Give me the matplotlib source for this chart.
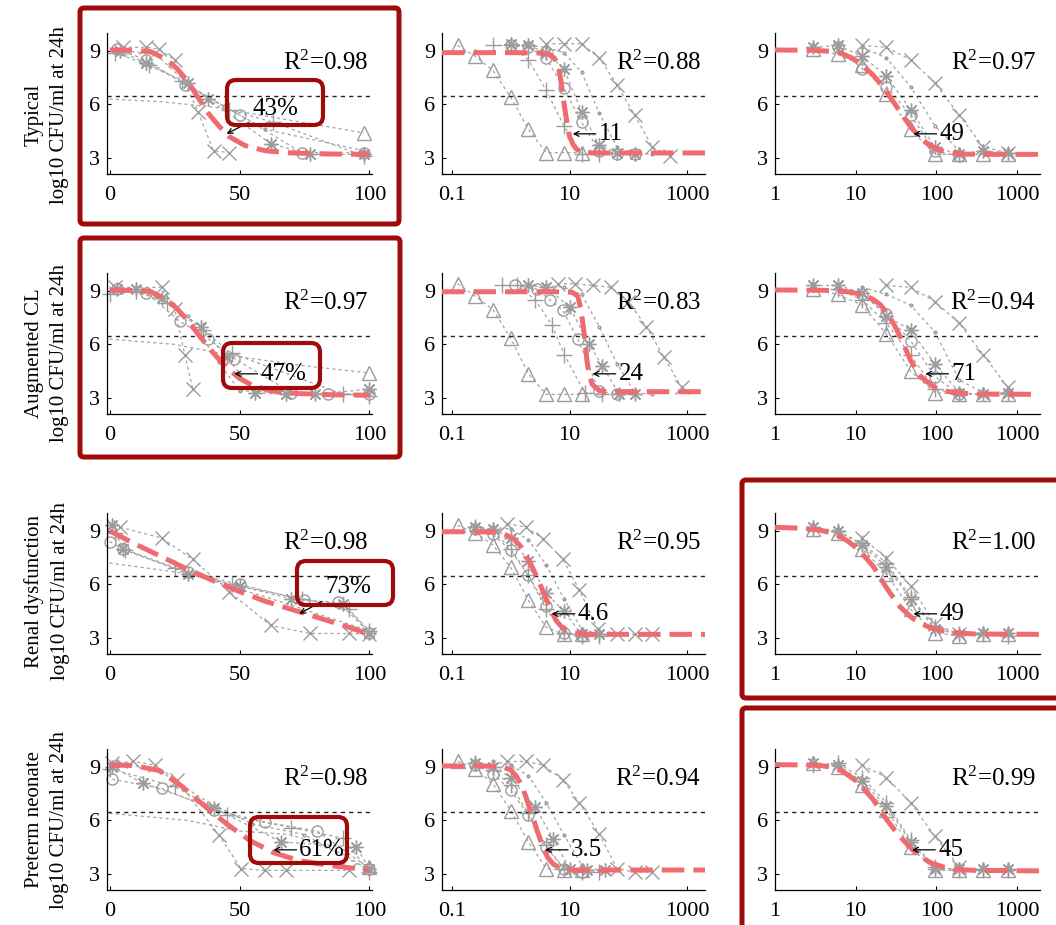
"""Kill curves vs exposure index, four patient groups, three panels each."""

import matplotlib

matplotlib.use("Agg")
import matplotlib.pyplot as plt
from matplotlib.patches import FancyBboxPatch
from matplotlib.ticker import NullLocator

plt.rcParams["font.family"] = ["Liberation Serif", "DejaVu Serif"]
plt.rcParams["mathtext.fontset"] = "custom"
plt.rcParams["mathtext.rm"] = "Liberation Serif"
plt.rcParams["mathtext.it"] = "Liberation Serif:italic"

ROW_NAMES = ["Typical", "Augmented CL", "Renal dysfunction", "Preterm neonate"]
R2_TEXT = [
    ["0.98", "0.88", "0.97"],
    ["0.97", "0.83", "0.94"],
    ["0.98", "0.95", "1.00"],
    ["0.98", "0.94", "0.99"],
]
ANNOT_TEXT = [
    ["43%", "11", "49"],
    ["47%", "24", "71"],
    ["73%", "4.6", "49"],
    ["61%", "3.5", "45"],
]
ANNOT_X = [
    [45, 11.3, 52],
    [48, 24.5, 73],
    [73, 4.95, 52],
    [63, 3.8, 50],
]
ANNOT_Y = 4.35
STASIS_Y = 6.45

# ---- row 1: typical ----
TYP_FT_FIT_X = [0, 10, 16, 22, 26, 30, 34, 38, 42, 46, 52, 60, 70, 85, 100]
TYP_FT_FIT_Y = [9.05, 9.03, 8.95, 8.5, 8.0, 7.3, 6.4, 5.5, 4.8, 4.2, 3.7, 3.4, 3.28, 3.22, 3.2]
TYP_FT_OBS = [
    ("x", [5, 14, 19, 25, 34, 40, 46], [9.2, 9.2, 9.1, 8.5, 5.6, 3.4, 3.3]),
    ("", [0, 20, 40, 60, 80, 98], [6.3, 6.15, 5.85, 5.35, 4.85, 4.4]),
    ("^", [98], [4.4]),
    ("*", [4, 14, 30, 38, 62, 77, 98], [9.0, 8.3, 7.2, 6.3, 3.8, 3.2, 3.2]),
    ("o", [3, 14, 29, 50, 74, 98], [9.1, 8.5, 7.1, 5.4, 3.3, 3.3]),
    ("+", [2, 15, 28, 46, 63, 98], [8.9, 8.2, 7.3, 5.7, 5.0, 3.1]),
    (".", [6, 18, 31, 44, 60, 98], [9.0, 8.8, 7.0, 5.9, 4.6, 3.4]),
]
TYP_AUC_FIT_X = [0.068, 1, 3, 4.5, 5.5, 6.3, 7.0, 7.7, 8.8, 10, 11.5, 13, 16, 25, 2000]
TYP_AUC_FIT_Y = [8.9, 8.9, 8.88, 8.8, 8.6, 8.2, 7.5, 6.5, 5.2, 4.2, 3.75, 3.5, 3.35, 3.28, 3.28]
TYP_AUC_OBS = [
    ("^", [0.125, 0.25, 0.5, 1, 2, 4, 8, 16], [9.3, 8.7, 7.9, 6.4, 4.6, 3.3, 3.3, 3.3]),
    ("+", [0.5, 1, 2, 4, 8, 16, 32], [9.3, 9.3, 8.5, 6.8, 4.8, 3.2, 3.2]),
    ("o", [1, 2, 4, 8, 16, 32, 64, 128], [9.3, 9.2, 8.6, 6.9, 5.0, 3.4, 3.2, 3.2]),
    ("*", [1, 2, 4, 8, 16, 32, 64, 128], [9.4, 9.3, 8.9, 8.0, 5.6, 3.7, 3.3, 3.2]),
    (".", [2, 4, 8, 16, 32, 64, 128, 256], [9.3, 9.2, 8.9, 7.8, 5.5, 3.6, 3.3, 3.2]),
    ("x", [4, 8, 16, 32, 64, 128, 256, 512], [9.4, 9.4, 9.4, 8.6, 7.1, 5.4, 3.6, 3.1]),
]
TYP_CMAX_FIT_X = [1, 3, 6, 9, 12, 16, 20, 25, 32, 40, 50, 63, 80, 100, 140, 200, 400, 1930]
TYP_CMAX_FIT_Y = [9.05, 9.03, 8.95, 8.6, 8.2, 7.7, 7.2, 6.6, 5.9, 5.25, 4.65, 4.15, 3.75, 3.5, 3.3, 3.22, 3.2, 3.2]
TYP_CMAX_OBS = [
    ("^", [3, 6, 12, 24, 48, 96, 192, 384, 768], [9.1, 8.8, 8.2, 6.6, 4.6, 3.2, 3.2, 3.2, 3.2]),
    ("*", [3, 6, 12, 24, 48, 96, 192, 384, 768], [9.2, 9.3, 8.7, 7.6, 5.7, 3.6, 3.2, 3.4, 3.3]),
    ("x", [12, 24, 48, 96, 192, 384, 768], [9.3, 9.2, 8.5, 7.2, 5.4, 3.6, 3.3]),
    (".", [12, 24, 48, 96, 192], [9.2, 8.6, 7.0, 4.8, 3.4]),
    ("o", [6, 12, 24, 48, 96, 192], [9.2, 8.0, 7.0, 5.4, 3.4, 3.1]),
]

# ---- row 2: augmented renal clearance ----
ACL_FT_FIT_X = [0, 10, 16, 22, 26, 30, 35, 40, 45, 50, 55, 62, 72, 85, 100]
ACL_FT_FIT_Y = [9.05, 9.02, 8.95, 8.5, 8.0, 7.35, 6.4, 5.5, 4.7, 4.1, 3.7, 3.4, 3.25, 3.18, 3.15]
ACL_FT_OBS = [
    ("x", [2, 20, 25, 29, 32], [9.2, 9.2, 8.0, 5.4, 3.5]),
    ("", [0, 25, 50, 75, 100], [6.3, 6.0, 5.3, 4.8, 4.4]),
    ("^", [100], [4.4]),
    ("*", [3, 10, 20, 35, 45, 56, 68, 79, 100], [9.1, 9.1, 8.6, 7.0, 5.3, 3.3, 3.2, 3.2, 3.5]),
    ("o", [3, 14, 27, 38, 48, 70, 84, 100], [9.1, 8.9, 7.3, 6.3, 5.2, 3.3, 3.2, 3.2]),
    ("+", [0, 10, 22, 36, 47, 90, 100], [8.8, 9.0, 8.3, 6.8, 5.5, 3.2, 3.1]),
    (".", [5, 18, 30, 42, 50, 70, 100], [9.0, 8.7, 7.6, 5.0, 3.4, 3.3, 3.2]),
]
ACL_AUC_FIT_X = [0.068, 5, 10, 11.3, 13.8, 15.6, 17.1, 18.5, 19.7, 21.5, 24.2, 31.6, 40.8, 2000]
ACL_AUC_FIT_Y = [8.95, 8.95, 8.93, 8.9, 8.7, 7.95, 7.0, 6.05, 5.1, 4.33, 3.76, 3.42, 3.35, 3.35]
ACL_AUC_OBS = [
    ("^", [0.125, 0.25, 0.5, 1, 2, 4, 8, 16], [9.4, 8.7, 7.95, 6.35, 4.35, 3.2, 3.2, 3.2]),
    ("+", [0.7, 1.3, 2.6, 5, 8.2, 18, 36], [9.3, 9.3, 8.5, 7.1, 5.4, 3.3, 3.2]),
    ("o", [1.2, 2.8, 4.6, 7.7, 13.8, 31.6, 64], [9.3, 9.1, 8.5, 7.9, 6.3, 3.4, 3.2]),
    ("*", [2, 4, 10, 21.5, 36, 70, 128], [9.3, 9.2, 8.1, 6.0, 4.8, 3.2, 3.2]),
    (".", [4, 8, 16, 32, 64, 128, 256], [9.3, 9.2, 8.8, 7.0, 4.9, 3.3, 3.2]),
    ("x", [6.25, 12.5, 25, 50, 100, 200, 400, 800], [9.4, 9.4, 9.3, 9.2, 8.4, 7.0, 5.3, 3.6]),
]
ACL_CMAX_FIT_X = [1, 4, 8, 12, 16, 20, 25, 30, 36, 42, 48, 56, 64, 80, 94, 120, 166, 300, 1930]
ACL_CMAX_FIT_Y = [9.05, 9.03, 8.95, 8.8, 8.55, 8.25, 7.7, 7.1, 6.4, 5.7, 5.1, 4.6, 4.2, 3.85, 3.6, 3.42, 3.3, 3.22, 3.2]
ACL_CMAX_OBS = [
    ("^", [3, 6, 12, 24, 48, 96, 192, 384, 768], [9.1, 8.8, 8.2, 6.6, 4.5, 3.3, 3.2, 3.2, 3.2]),
    ("*", [3, 6, 12, 24, 48, 96, 192, 384, 768], [9.3, 9.3, 8.9, 7.6, 6.8, 4.9, 3.3, 3.2, 3.3]),
    ("x", [24, 48, 96, 192, 384, 768], [9.3, 9.2, 8.4, 7.2, 5.4, 3.6]),
    ("o", [12, 24, 48, 96, 192], [8.8, 7.7, 6.2, 4.2, 3.2]),
    (".", [12, 24, 48, 96, 192, 384], [9.2, 8.8, 8.2, 6.7, 4.0, 3.3]),
    ("+", [6, 12, 24, 48, 96, 192], [9.1, 8.5, 7.2, 5.4, 3.5, 3.2]),
]

# ---- row 3: renal dysfunction ----
REN_FT_FIT_X = [0, 10, 20, 30, 40, 50, 60, 70, 80, 90, 100]
REN_FT_FIT_Y = [9.0, 8.25, 7.55, 6.85, 6.2, 5.6, 5.05, 4.6, 4.15, 3.7, 3.2]
REN_FT_OBS = [
    ("x", [4, 20, 32, 46, 62, 77, 92, 100], [9.2, 8.6, 7.4, 5.6, 3.7, 3.25, 3.25, 3.2]),
    ("", [0, 30, 60, 100], [7.2, 6.6, 5.3, 3.4]),
    ("o", [0, 5, 30, 50, 75, 88, 100], [8.4, 8.0, 6.7, 6.0, 5.1, 5.0, 3.3]),
    ("+", [2, 6, 25, 47, 74, 92, 100], [8.9, 7.9, 6.9, 6.0, 5.2, 4.6, 3.4]),
    ("*", [1, 5, 30, 50, 70, 90, 100], [9.3, 8.0, 6.6, 5.9, 5.2, 4.9, 3.3]),
]
REN_AUC_FIT_X = [0.068, 0.3, 0.68, 1.14, 1.5, 1.9, 2.3, 2.8, 3.4, 4.1, 5.0, 6.0, 7.2, 8.8, 12, 19, 2000]
REN_AUC_FIT_Y = [8.95, 8.95, 8.9, 8.55, 8.1, 7.5, 7.0, 6.4, 5.75, 5.1, 4.45, 3.95, 3.65, 3.45, 3.3, 3.2, 3.2]
REN_AUC_OBS = [
    ("^", [0.125, 0.25, 0.5, 1, 2, 4, 8, 16], [9.3, 8.9, 8.2, 6.95, 5.1, 3.6, 3.2, 3.2]),
    ("x", [0.88, 1.8, 3.6, 7.7, 14.6, 30, 64, 128, 256], [9.4, 9.2, 8.55, 7.4, 5.7, 3.5, 3.2, 3.2, 3.2]),
    ("*", [0.25, 0.5, 1, 2, 4, 8, 16, 32], [9.2, 9.1, 8.6, 7.3, 5.5, 4.5, 3.2, 3.2]),
    ("+", [0.25, 0.5, 1, 2, 4, 8, 16, 32], [9.2, 9.0, 8.0, 6.5, 4.6, 3.3, 3.1, 3.1]),
    (".", [0.5, 1, 2, 4, 8, 16, 32, 64], [9.2, 9.1, 8.5, 7.1, 5.2, 3.5, 3.2, 3.2]),
    ("o", [0.25, 0.5, 1, 2, 4, 8, 16], [9.1, 8.8, 7.9, 6.5, 4.8, 3.3, 3.1]),
]
REN_CMAX_FIT_X = [1, 2, 3.6, 5, 6.4, 8, 10.4, 13, 16.7, 20, 24.6, 30, 36, 44, 52, 65, 84, 120, 166, 300, 1930]
REN_CMAX_FIT_Y = [9.2, 9.15, 9.05, 8.88, 8.68, 8.42, 8.02, 7.55, 6.98, 6.4, 5.75, 5.2, 4.72, 4.35, 4.06, 3.8, 3.58, 3.4, 3.3, 3.22, 3.2]
REN_CMAX_OBS = [
    ("^", [3, 6, 12, 24, 48, 96, 192, 384, 768], [9.1, 8.9, 8.0, 6.6, 4.6, 3.3, 3.1, 3.2, 3.2]),
    ("x", [12, 24, 48, 96, 192], [8.6, 7.5, 5.9, 3.8, 3.2]),
    ("*", [3, 6, 12, 24, 48, 96, 192, 384, 768], [9.2, 9.0, 8.2, 7.0, 5.2, 3.5, 3.2, 3.3, 3.3]),
    ("+", [3, 6, 12, 24, 48, 96, 192, 384, 768], [9.1, 9.0, 8.3, 7.2, 5.3, 3.6, 3.2, 3.2, 3.1]),
]

# ---- row 4: preterm neonate ----
PRE_FT_FIT_X = [0, 9, 19, 28, 37, 45, 54, 63, 73, 86, 100]
PRE_FT_FIT_Y = [9.1, 9.08, 8.8, 7.89, 6.75, 5.81, 4.87, 4.2, 3.74, 3.45, 3.22]
PRE_FT_OBS = [
    ("x", [1, 9, 17.5, 26, 42, 50.6, 60, 68, 92], [9.2, 9.3, 9.1, 8.25, 5.2, 3.3, 3.2, 3.2, 3.2]),
    ("*", [1, 12.7, 40, 66, 95, 100], [9.0, 8.1, 6.7, 4.8, 4.5, 3.3]),
    ("o", [1, 20, 40, 60, 80, 100], [8.3, 7.8, 6.6, 5.9, 5.4, 3.3]),
    ("+", [0, 25, 45, 70, 90, 100], [8.9, 7.9, 6.3, 5.6, 5.0, 3.1]),
    ("", [0, 30, 50, 70, 90, 100], [6.4, 6.0, 5.4, 5.2, 4.1, 3.2]),
    ("^", [100], [3.4]),
    (".", [3, 20, 38, 55, 75, 100], [9.3, 8.7, 7.0, 5.8, 5.2, 3.2]),
]
PRE_AUC_FIT_X = [0.068, 0.4, 0.68, 1.0, 1.2, 1.47, 1.8, 2.15, 2.5, 2.8, 3.2, 3.6, 4.3, 5.3, 6.8, 8.8, 12, 2000]
PRE_AUC_FIT_Y = [9.05, 9.05, 9.03, 8.83, 8.55, 8.08, 7.35, 6.57, 5.95, 5.43, 4.9, 4.4, 3.9, 3.55, 3.35, 3.26, 3.22, 3.22]
PRE_AUC_OBS = [
    ("^", [0.125, 0.25, 0.5, 1, 2, 4, 8, 16], [9.3, 8.9, 8.05, 6.55, 4.8, 3.3, 3.2, 3.2]),
    ("x", [0.88, 1.8, 3.6, 7.7, 14.6, 31.6, 64, 128, 256], [9.3, 9.3, 9.1, 8.25, 7.0, 5.25, 3.3, 3.1, 3.1]),
    ("*", [0.25, 0.5, 1, 2.6, 5.3, 10, 20, 40], [9.2, 9.0, 8.4, 6.75, 4.95, 3.3, 3.2, 3.2]),
    ("+", [0.25, 0.5, 1, 2, 4, 8, 16, 32], [9.2, 8.8, 8.0, 6.4, 4.6, 3.3, 3.1, 3.1]),
    (".", [0.5, 1, 2, 4, 8, 16, 32, 64], [9.3, 9.1, 8.5, 7.0, 5.2, 3.5, 3.2, 3.2]),
    ("o", [0.25, 0.5, 1, 2, 4, 8, 16], [9.1, 8.6, 7.7, 6.3, 4.5, 3.3, 3.1]),
]
PRE_CMAX_FIT_X = [1, 2, 3.6, 5, 6.4, 8, 10.4, 13, 16.7, 20, 24.6, 30, 36, 44, 52, 65, 84, 120, 166, 300, 1930]
PRE_CMAX_FIT_Y = [9.12, 9.11, 9.08, 8.98, 8.83, 8.55, 8.17, 7.7, 7.13, 6.6, 6.0, 5.5, 5.06, 4.65, 4.3, 3.95, 3.64, 3.4, 3.26, 3.2, 3.17]
PRE_CMAX_OBS = [
    ("^", [3, 6, 12, 24, 48, 96, 192, 384, 768], [9.2, 9.0, 8.0, 6.6, 4.5, 3.2, 3.2, 3.2, 3.2]),
    ("x", [12, 24, 48, 96, 192], [9.1, 8.4, 7.0, 5.1, 3.4]),
    ("*", [3, 6, 12, 24, 48, 96, 192, 384, 768], [9.2, 9.1, 8.2, 6.8, 4.8, 3.3, 3.3, 3.3, 3.3]),
    ("+", [3, 6, 12, 24, 48, 96, 192, 384, 768], [9.1, 9.2, 8.4, 7.0, 4.9, 3.4, 3.2, 3.2, 3.2]),
]

PANELS = [
    [(TYP_FT_FIT_X, TYP_FT_FIT_Y, TYP_FT_OBS), (TYP_AUC_FIT_X, TYP_AUC_FIT_Y, TYP_AUC_OBS),
     (TYP_CMAX_FIT_X, TYP_CMAX_FIT_Y, TYP_CMAX_OBS)],
    [(ACL_FT_FIT_X, ACL_FT_FIT_Y, ACL_FT_OBS), (ACL_AUC_FIT_X, ACL_AUC_FIT_Y, ACL_AUC_OBS),
     (ACL_CMAX_FIT_X, ACL_CMAX_FIT_Y, ACL_CMAX_OBS)],
    [(REN_FT_FIT_X, REN_FT_FIT_Y, REN_FT_OBS), (REN_AUC_FIT_X, REN_AUC_FIT_Y, REN_AUC_OBS),
     (REN_CMAX_FIT_X, REN_CMAX_FIT_Y, REN_CMAX_OBS)],
    [(PRE_FT_FIT_X, PRE_FT_FIT_Y, PRE_FT_OBS), (PRE_AUC_FIT_X, PRE_AUC_FIT_Y, PRE_AUC_OBS),
     (PRE_CMAX_FIT_X, PRE_CMAX_FIT_Y, PRE_CMAX_OBS)],
]

# layout in pixels of a 1056 x 925 canvas
W, H = 1056, 925
ROW_TOP = [33, 273, 513, 749]
AX_H = 141
COL_LEFT = [107, 442, 775]
COL_W = [265, 263, 265]
LABEL_CY = [115, 353, 591, 820]
BIG_BOXES = [(80, 8, 399, 224), (80, 238, 400, 457), (742, 480, 1066, 698), (742, 708, 1066, 935)]
SMALL_BOXES = [(227, 80, 323, 125), (223, 343, 320, 388), (297, 561, 393, 605), (250, 817, 347, 863)]
# text position for the two annotations that sit away from their arrow tip
OFFSET_TEXT = {(0, 0): (55, 5.75), (2, 0): (83, 5.85)}

GRAY = "#a4a4a4"
RED = "#ef6b70"
BOX_RED = "#a00a0a"
MARKERS = {"*": (8, 2, 0)}
MSIZE = {"x": 10, "^": 10, "o": 8, "+": 11, "*": 10, ".": 4}


def style_axes(ax, col):
    for side in ("top", "right"):
        ax.spines[side].set_visible(False)
    for side in ("left", "bottom"):
        ax.spines[side].set_linewidth(0.9)
    ax.set_ylim(2.1, 10)
    ax.set_yticks([3, 6, 9])
    if col == 0:
        ax.set_xlim(-1, 101)
        ax.set_xticks([0, 50, 100], ["0", "50", "100"])
    elif col == 1:
        ax.set_xscale("log")
        ax.set_xlim(0.068, 2000)
        ax.set_xticks([0.1, 10, 1000], ["0.1", "10", "1000"])
    else:
        ax.set_xscale("log")
        ax.set_xlim(1, 1930)
        ax.set_xticks([1, 10, 100, 1000], ["1", "10", "100", "1000"])
    ax.xaxis.set_minor_locator(NullLocator())
    ax.tick_params(direction="in", length=3, width=0.8, labelsize=16)
    ax.tick_params(axis="x", pad=9)
    ax.tick_params(axis="y", pad=5)


fig = plt.figure(figsize=(W / 100, H / 100), dpi=100)
arrow_style = dict(arrowstyle="->", color="black", lw=0.9, mutation_scale=9,
                   shrinkA=1, shrinkB=0)

for r in range(4):
    for c in range(3):
        left = COL_LEFT[c] / W
        bottom = 1 - (ROW_TOP[r] + AX_H) / H
        ax = fig.add_axes([left, bottom, COL_W[c] / W, AX_H / H])
        fit_x, fit_y, obs = PANELS[r][c]
        for mk, xs, ys in obs:
            ax.plot(xs, ys, color=GRAY, lw=0.9, ls=(0, (2.5, 2.5)),
                    marker=MARKERS.get(mk, mk) if mk else None, ms=MSIZE.get(mk, 8),
                    mfc="none", mec="#9c9c9c", mew=1.0, zorder=2, clip_on=False)
        ax.axhline(STASIS_Y, color="#222222", lw=1.0, ls=(0, (3, 3)), zorder=3)
        ax.plot(fit_x, fit_y, color=RED, lw=3.6, ls=(0, (4.5, 1.8)), zorder=4)
        style_axes(ax, c)

        ax.text(0.985, 0.79, "R$^2$=" + R2_TEXT[r][c], transform=ax.transAxes,
                ha="right", va="center", fontsize=18, zorder=6)

        label = ANNOT_TEXT[r][c]
        tip = (ANNOT_X[r][c], ANNOT_Y)
        if (r, c) in OFFSET_TEXT:
            ax.annotate(label, xy=tip, xytext=OFFSET_TEXT[(r, c)], fontsize=18,
                        ha="left", va="center", zorder=6, arrowprops=arrow_style)
        else:
            ax.annotate(label, xy=tip, xytext=(26, 0), textcoords="offset pixels",
                        fontsize=18, ha="left", va="center", zorder=6,
                        arrowprops=dict(arrow_style, shrinkA=0))

        if c == 0:
            fig.text(47 / W, 1 - LABEL_CY[r] / H,
                     ROW_NAMES[r] + "\nlog10 CFU/ml at 24h",
                     rotation=90, ha="center", va="center", fontsize=15,
                     linespacing=1.45, multialignment="center")

for x0, y0, x1, y1 in BIG_BOXES:
    box = FancyBboxPatch((x0 / 100, (H - y1) / 100), (x1 - x0) / 100, (y1 - y0) / 100,
                         boxstyle="round,pad=0,rounding_size=0.04",
                         transform=fig.dpi_scale_trans, fill=False, ec=BOX_RED, lw=3.6,
                         zorder=10)
    fig.add_artist(box)
for x0, y0, x1, y1 in SMALL_BOXES:
    box = FancyBboxPatch((x0 / 100, (H - y1) / 100), (x1 - x0) / 100, (y1 - y0) / 100,
                         boxstyle="round,pad=0,rounding_size=0.09",
                         transform=fig.dpi_scale_trans, fill=False, ec=BOX_RED, lw=3.0,
                         zorder=10)
    fig.add_artist(box)

fig.savefig("out.png", dpi=100)
plt.close(fig)
